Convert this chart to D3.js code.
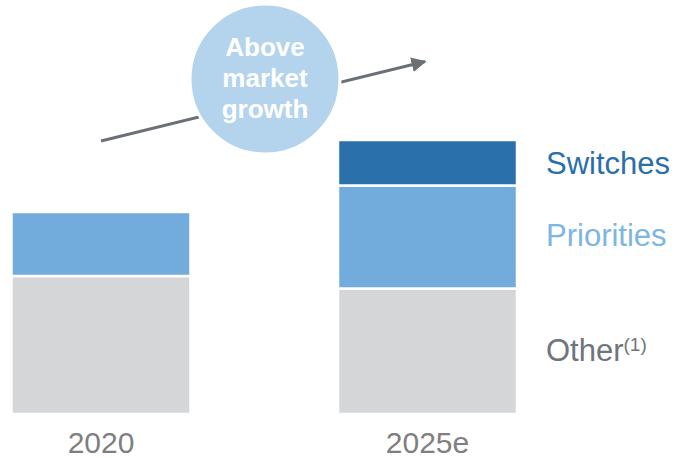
<!DOCTYPE html>
<html>
<head>
<meta charset="utf-8">
<script src="https://cdn.jsdelivr.net/npm/d3@7"></script>
<style>
  body { margin: 0; background: #fff; }
  text { font-family: "Liberation Sans", Arial, sans-serif; }
</style>
</head>
<body>
<svg id="chart" width="676" height="458"></svg>
<script>
const svg = d3.select("#chart"),
  width = +svg.attr("width"),
  height = +svg.attr("height");

// data (relative units)
const years = ["2020", "2025e"];
const segments = ["Other", "Priorities", "Switches"];
const otherVals = [138, 125.5];
const priorityVals = [64, 103];
const switchVals = [0, 45.5];
const bubbleLines = ["Above", "market", "growth"];

const colors = {
  Other: "#d5d6d8",
  Priorities: "#71acdc",
  Switches: "#2a71ac"
};
const labelColors = {
  Other: "#6f757b",
  Priorities: "#7db6e2",
  Switches: "#2a6faa"
};

const rows = years.map((y, i) => ({
  year: y,
  Other: otherVals[i],
  Priorities: priorityVals[i],
  Switches: switchVals[i]
}));

const stacked = d3.stack().keys(segments)(rows);

// scales: bars centred at 101 and 427.5
const xPos = d3.scalePoint().domain(years).range([101, 427.5]);
const barW = 179;
const y = d3.scaleLinear().domain([0, 300]).range([414, 114]);

// bars
const layer = svg.append("g").attr("class", "bars");
stacked.forEach(s => {
  layer.selectAll("rect." + s.key)
    .data(s.filter(d => d[1] > d[0]))
    .enter()
    .append("rect")
    .attr("class", s.key)
    .attr("x", d => xPos(d.data.year) - barW / 2)
    .attr("width", barW)
    .attr("y", d => y(d[1]))
    .attr("height", d => y(d[0]) - y(d[1]))
    .attr("fill", colors[s.key])
    .attr("stroke", "#fff")
    .attr("stroke-width", 2.5);
});

// year labels
svg.append("g")
  .selectAll("text")
  .data(years)
  .enter()
  .append("text")
  .attr("x", d => xPos(d))
  .attr("y", 453)
  .attr("text-anchor", "middle")
  .attr("fill", "#7f7f7f")
  .style("font-size", "30px")
  .text(d => d);

// segment labels on the right of the 2025e bar
const legendY = { Switches: 174, Priorities: 246, Other: 361 };
const legend = svg.append("g").attr("id", "legend");
segments.forEach(k => {
  const t = legend.append("text")
    .attr("x", 546)
    .attr("y", legendY[k])
    .attr("fill", labelColors[k])
    .style("font-size", "31px")
    .text(k);
  if (k === "Other") {
    t.append("tspan")
      .attr("dy", -10)
      .style("font-size", "19px")
      .text("(1)");
  }
});

// growth arrow
svg.append("defs").append("marker")
  .attr("id", "arrowhead")
  .attr("viewBox", "0 0 10 10")
  .attr("refX", 9)
  .attr("refY", 5)
  .attr("markerWidth", 5)
  .attr("markerHeight", 5.5)
  .attr("orient", "auto")
  .attr("markerUnits", "strokeWidth")
  .append("path")
  .attr("d", "M0,0 L10,5 L0,10 z")
  .attr("fill", "#6a7076");

svg.append("line")
  .attr("x1", 101).attr("y1", 141)
  .attr("x2", 425).attr("y2", 61.5)
  .attr("stroke", "#6a7076")
  .attr("stroke-width", 3)
  .attr("marker-end", "url(#arrowhead)");

// bubble
svg.append("circle")
  .attr("cx", 265)
  .attr("cy", 79)
  .attr("r", 75)
  .attr("fill", "#b3d4ec")
  .attr("stroke", "#fff")
  .attr("stroke-width", 3);

svg.append("g")
  .selectAll("text")
  .data(bubbleLines)
  .enter()
  .append("text")
  .attr("x", 265)
  .attr("y", (d, i) => 56 + i * 31)
  .attr("text-anchor", "middle")
  .attr("fill", "#fff")
  .style("font-size", "26px")
  .style("font-weight", "bold")
  .text(d => d);
</script>
</body>
</html>
